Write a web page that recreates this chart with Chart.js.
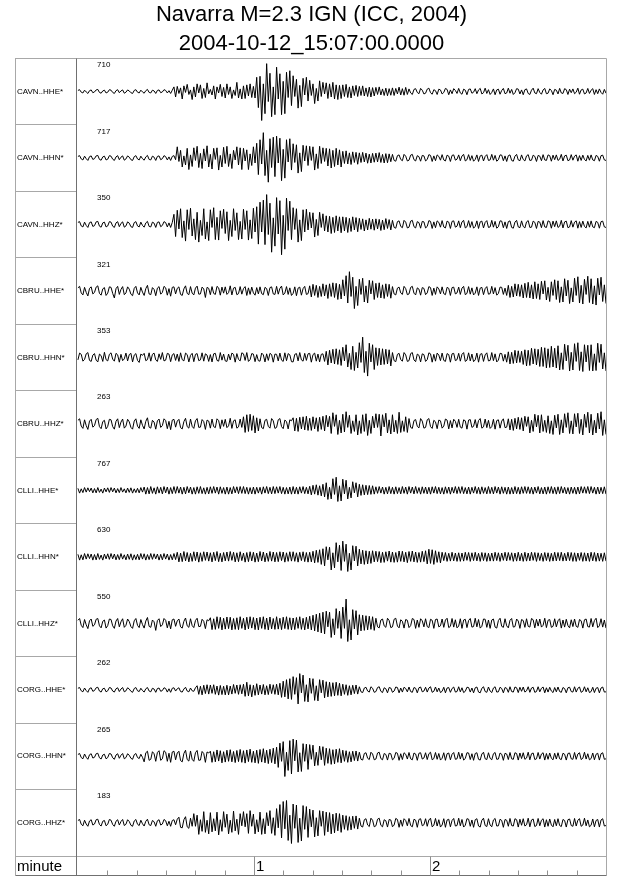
<!DOCTYPE html>
<html>
<head>
<meta charset="utf-8">
<script src="https://cdn.jsdelivr.net/npm/chart.js@4"></script>
<style>
html,body{margin:0;padding:0;background:#fff;}
canvas{display:block;}
</style>
</head>
<body>
<canvas id="c" width="640" height="878"></canvas>
<script>
const titleLines = ['Navarra M=2.3 IGN (ICC, 2004)', '2004-10-12_15:07:00.0000'];
const stationLabels = ['CAVN..HHE*','CAVN..HHN*','CAVN..HHZ*','CBRU..HHE*','CBRU..HHN*','CBRU..HHZ*','CLLI..HHE*','CLLI..HHN*','CLLI..HHZ*','CORG..HHE*','CORG..HHN*','CORG..HHZ*'];
const peakCounts = [710, 717, 350, 321, 353, 263, 767, 630, 550, 262, 265, 183];
const axisName = 'minute';
const minuteTicks = [1, 2];
const secondTicks = [10,20,30,40,50,70,80,90,100,110,130,140,150,160,170];
const traceDurationMin = 3;

const traceCAVN_HHE = [
4,7,-3,-6,5,-2,-8,3,6,-5, -2,6,8,-4,-7,2,5,-6,-3,7, 5,-4,-8,3,7,-5,2,6,-7,-3, 6,2,-5,-8,4,7,-3,-6,5,-2,
-7,3,8,-4,-6,5,2,-8,4,6, -5,-2,7,4,-6,3,-8,5,18,-22, 20,-8,14,-30,22,-4,28,-12,6,-32, 18,-22,30,-6,26,-28,12,-24,34,-10,
8,-14,22,-30,18,-6,28,-20,16,-26, 30,-12,18,-28,6,-16,36,-26,10,-30, 22,-28,26,-18,30,-24,20,-26,56,-64, 60,-115,30,-88,110,-40,72,-100,18,-92,
96,-30,70,-92,40,-88,76,-24,82,-56, 62,-20,48,-66,24,-60,52,-14,56,-38, 44,-16,30,-48,12,-38,42,-20,36,-10, 34,-28,30,-22,36,-30,26,-32,24,-28,
26,-20,28,-24,18,-26,22,-16,24,-20, 20,-16,22,-18,14,-20,17,-22,15,-18, 16,-12,18,-14,10,-16,13,-17,11,-15, 14,-16,12,-10,17,-14,11,-15,16,-12,
10,-6,-12,8,11,-4,-9,12,5,-10, -7,9,13,-5,-11,7,3,-12,9,6, -10,-4,12,8,-13,6,-9,11,4,-8, 12,-6,-11,9,5,-13,8,10,-7,-3,
11,-9,6,12,-10,-5,13,-8,7,-12, -4,10,-13,6,9,-11,4,12,-9,-6, 13,-7,8,-12,-5,11,9,-10,6,-13, 7,10,-8,-12,5,13,-6,-9,11,-4,
-11,6,12,-9,-7,10,4,-13,8,5, -10,12,-6,-8,11,7,-12,9,-5,10, -9,-3,13,-11,6,9,-10,-6,12,-8, 5,11,-12,7,-9,10,-4,-11,8,-7];
const traceCAVN_HHN = [
6,9,-4,-8,7,-3,-10,5,8,-6, -3,8,10,-6,-9,4,7,-8,-5,9, 7,-5,-10,4,9,-7,3,8,-9,-4, 8,3,-7,-10,5,9,-4,-8,7,-3,
-9,4,10,-6,-8,7,3,-10,6,8, -7,-3,9,5,-8,4,-10,6,9,-7, 44,-14,30,-36,8,-28,38,-46,12,-34, 40,-10,46,-38,18,-42,36,-12,48,-36,
14,-44,38,-6,40,-48,10,-36,42,-22, 46,-34,16,-42,30,-8,44,-28,40,-46, 38,-12,32,-46,16,-30,44,-20,58,-66, 72,-24,100,-70,30,-96,76,-38,82,-74,
86,-20,78,-90,34,-80,72,-16,76,-48, 56,-18,52,-60,20,-54,50,-12,48,-30, 46,-10,44,-48,16,-42,46,-22,40,-14, 38,-32,36,-40,30,-34,38,-28,32,-36,
26,-22,28,-24,20,-26,24,-18,22,-25, 20,-18,22,-16,19,-21,15,-20,18,-17, 19,-16,21,-18,14,-20,17,-19,16,-15, 14,-10,-13,9,12,-6,-11,14,7,-12,
-9,11,14,-7,-12,9,5,-13,10,8, -12,-6,13,10,-14,8,-11,12,6,-9, 13,-8,-12,11,7,-14,10,12,-9,-5, 12,-11,8,14,-12,-7,13,-10,9,-13,
-6,12,-14,8,11,-12,6,13,-10,-8, 14,-9,10,-13,-7,12,11,-11,8,-14, 9,12,-10,-13,7,14,-8,-11,12,-6, -12,8,13,-10,-9,11,6,-14,10,7,
-11,13,-8,-10,12,9,-13,11,-7,12, -10,-5,14,-12,8,11,-11,-8,13,-9, 7,12,-13,9,-10,11,-6,-12,10,-9, 12,-8,-11,10,6,-13,9,11,-8,-10];
const traceCAVN_HHZ = [
8,11,-6,-10,9,-4,-12,7,10,-8, -5,10,12,-7,-11,6,9,-10,-6,11, 9,-7,-12,6,11,-9,4,10,-11,-6, 10,5,-9,-12,7,11,-6,-10,9,-4,
-11,6,12,-8,-10,9,5,-12,8,10, -9,-4,11,7,-10,6,-12,8,40,-48, 56,-18,62,-52,14,-66,58,-20,64,-46, 22,-60,48,-70,16,-44,62,-58,10,-64,
58,-12,66,-60,28,-62,54,-16,60,-36, 50,-64,16,-48,62,-24,46,-60,12,-58, 60,-20,54,-62,18,-56,64,-30,70,-78, 88,-30,96,-80,118,-40,84,-110,26,-86,
106,-38,94,-120,36,-98,104,-24,92,-60, 66,-20,62,-70,18,-64,58,-30,60,-22, 48,-14,46,-50,20,-44,48,-12,42,-26, 34,-30,32,-36,28,-32,34,-26,30,-33,
30,-26,28,-32,24,-28,30,-22,27,-29, 24,-20,22,-26,18,-22,24,-19,21,-23, 22,-18,20,-24,17,-21,23,-16,19,-22, 16,-12,-15,11,14,-8,-13,16,9,-14,
-11,13,16,-9,-14,11,7,-15,12,10, -14,-8,15,12,-16,10,-13,14,8,-11, 15,-10,-14,13,9,-16,12,14,-11,-7, 14,-13,10,16,-14,-9,15,-12,11,-15,
-8,14,-16,10,13,-14,8,15,-12,-10, 16,-11,12,-15,-9,14,13,-13,10,-16, 11,14,-12,-15,9,16,-10,-13,14,-8, -14,10,15,-12,-11,13,8,-16,12,9,
-13,15,-10,-12,14,11,-15,13,-9,14, -12,-7,16,-14,10,13,-13,-10,15,-11, 9,14,-15,11,-12,13,-8,-14,12,-11, 14,-10,-13,12,8,-15,11,13,-10,-12];
const traceCBRU_HHE = [
12,18,-8,-16,14,-6,-20,10,16,-12, -6,15,20,-10,-17,8,13,-18,-9,16, 14,-10,-28,9,18,-14,6,17,-15,-8, 16,7,-13,-19,10,18,-8,-16,14,-5,
-18,9,22,-12,-15,13,6,-19,11,17, -13,-6,18,12,-17,9,-21,14,16,-12, 10,16,-14,-18,8,20,-10,-15,17,-9, -16,11,19,-13,-12,15,8,-26,14,10,
-15,17,-10,-14,18,12,-17,15,-9,16, -14,-7,20,-16,11,14,-15,-11,17,-13, 9,17,-18,12,-14,15,-8,-17,13,-12, 16,-11,-15,14,9,-18,13,16,-12,-14,
18,-13,10,19,-16,-9,17,-14,12,-18, -10,16,-19,11,15,-17,9,18,-14,-11, 20,-24,26,-18,22,-26,18,-22,28,-20, 24,-30,28,-22,32,-26,30,-34,26,-32,
44,-20,60,-48,76,-22,54,-70,18,-58, 46,-14,50,-44,20,-48,42,-12,40,-34, 30,-26,32,-28,24,-30,28,-22,26,-29, 17,-12,-16,11,15,-8,-14,18,9,-15,
-12,14,18,-9,-16,12,7,-17,13,10, -15,-8,17,13,-18,11,-14,16,8,-12, 16,-11,-15,14,10,-18,13,15,-12,-8, 15,-14,11,18,-15,-10,17,-13,12,-16,
-9,16,-18,11,14,-15,9,17,-13,-11, 18,-12,13,-17,-10,15,14,-14,11,-18, 22,-26,18,-24,28,-20,26,-22,24,-28, 30,-26,34,-28,24,-32,36,-30,28,-34,
38,-12,40,-36,14,-42,36,-18,44,-34, 40,-46,16,-44,48,-20,42,-50,12,-44, 50,-18,56,-48,22,-52,46,-14,58,-46, 48,-52,20,-56,50,-16,54,-42,24,-50];
const traceCBRU_HHN = [
-10,17,12,-15,-8,14,19,-12,-16,9, 15,-11,-18,13,7,-16,20,-9,-14,12, 18,-7,-15,16,10,-19,12,-13,-6,17, -14,11,16,-18,9,15,-12,-20,13,8,
16,-13,-9,18,-15,12,17,-10,-16,14, -8,19,-14,-11,16,13,-17,10,15,-12, 13,-16,18,-9,-14,17,11,-18,8,16, -17,12,15,-13,-10,18,-15,14,9,-16,
11,-18,14,16,-12,-15,19,-11,13,-14, -16,13,-10,17,12,-19,15,-8,-14,18, 14,-12,19,-16,-9,15,13,-17,11,-13, -15,17,10,-18,14,-12,16,11,-19,13,
12,-14,17,-11,-16,18,-13,15,10,-17, -18,12,15,-14,19,-10,-15,16,-12,14, 16,-19,11,17,-15,13,-18,12,14,-16, 24,-30,28,-22,32,-26,34,-28,30,-32,
40,-14,50,-38,16,-48,44,-52,20,-42, 58,-20,80,-60,24,-74,56,-18,50,-48, 38,-32,36,-30,34,-28,32,-26,30,-34, 19,-13,-17,12,16,-9,-15,19,10,-16,
-13,15,19,-10,-17,13,8,-18,14,11, -16,-9,18,14,-19,12,-15,17,9,-13, 17,-12,-16,15,11,-19,14,16,-13,-9, 16,-15,12,19,-16,-11,18,-14,13,-17,
-10,17,-19,12,15,-16,10,18,-14,-12, 19,-13,14,-18,-11,16,15,-15,12,-19, 22,-26,20,-24,28,-22,26,-20,24,-28, 30,-34,28,-32,36,-26,34,-30,32,-36,
40,-36,38,-42,34,-40,44,-38,36,-42, 46,-50,18,-48,52,-14,48,-54,20,-50, 54,-16,58,-52,22,-56,50,-18,48,-52, 50,-54,14,-52,56,-20,52,-46,18,-54];
const traceCBRU_HHZ = [
14,20,-9,-18,16,-7,-22,11,18,-13, -7,17,22,-11,-19,9,14,-20,-10,18, 16,-11,-21,10,20,-15,7,19,-17,-9, 18,8,-14,-21,11,20,-9,-18,16,-6,
-20,10,24,-13,-17,14,7,-21,12,19, -14,-7,20,13,-19,10,-23,15,18,-13, 11,18,-15,-20,9,22,-11,-17,19,-10, -18,12,21,-14,-13,17,9,-22,15,11,
-17,19,-11,-15,20,13,-19,16,-10,18, -15,-8,22,-18,12,16,-17,-12,19,-14, 28,-34,36,-30,38,-26,32,-36,24,-28, 20,-15,-19,14,18,-10,-17,21,12,-18,
-14,16,21,-11,-19,15,9,-20,16,12, 24,-28,22,-30,26,-20,28,-24,30,-26, 22,-26,28,-20,24,-30,26,-22,30,-28, 34,-12,30,-38,44,-10,36,-42,14,-36,
38,-32,48,-14,34,-38,12,-30,36,-44, 12,-38,36,-30,40,-46,14,-38,30,-16, 40,-14,38,-48,36,-12,42,-36,16,-40, 36,-32,14,-38,46,-34,12,-30,28,-34,
21,-14,-18,13,17,-10,-16,21,11,-17, -14,16,21,-11,-18,14,8,-19,15,12, -17,-9,19,15,-20,13,-16,18,10,-14, 18,-13,-17,16,12,-21,15,17,-14,-10,
17,-16,13,21,-17,-12,19,-15,14,-18, -11,18,-21,13,16,-17,11,20,-15,-13, 20,-24,18,-26,22,-20,26,-22,24,-28, 30,-10,28,-36,14,-30,38,-12,34,-36,
36,-30,14,-34,32,-38,12,-42,34,-16, 38,-42,16,-36,40,-14,44,-38,12,-40, 40,-12,42,-38,18,-44,38,-14,46,-36, 38,-44,14,-36,42,-20,48,-46,16,-42];
const traceCLLI_HHE = [
8,-11,6,-9,11,-7,10,-5,9,-10, 7,-10,11,-8,5,-11,9,-6,10,-8, 11,-6,9,-10,7,-9,11,-7,6,-10, 9,-8,10,-11,6,-9,8,-10,11,-7,
13,-15,11,-14,15,-12,10,-15,14,-11, 12,-14,15,-10,13,-15,11,-13,15,-12, 15,-11,13,-15,12,-14,15,-10,13,-15, 11,-15,14,-12,15,-13,10,-15,12,-14,
14,-12,15,-11,13,-15,14,-12,11,-15, 13,-15,11,-14,15,-10,14,-13,15,-12, 15,-13,12,-15,11,-14,13,-15,12,-11, 12,-15,14,-11,15,-13,12,-14,15,-13,
14,-11,15,-13,12,-15,11,-14,13,-15, 15,-14,12,-15,14,-11,15,-13,12,-14, 16,-18,20,-15,22,-19,18,-22,24,-26, 30,-36,12,-34,46,-16,52,-44,18,-42,
44,-14,40,-34,12,-30,34,-10,30,-26, 24,-20,22,-18,20,-17,19,-16,18,-15, 14,-12,15,-11,13,-15,12,-14,15,-13, 12,-15,14,-13,11,-14,15,-12,13,-15,
15,-11,13,-14,15,-12,11,-15,14,-12, 13,-14,12,-15,14,-11,15,-13,12,-14, 11,-15,14,-12,13,-15,12,-11,15,-13, 14,-12,15,-13,11,-14,13,-15,12,-11,
15,-13,12,-15,14,-12,11,-14,15,-13, 12,-14,15,-11,13,-15,14,-12,12,-15, 13,-15,11,-14,15,-13,12,-15,14,-12, 15,-12,14,-13,12,-15,13,-11,15,-14,
11,-14,13,-15,14,-12,15,-13,12,-15, 14,-13,15,-11,12,-14,11,-15,13,-12, 12,-15,13,-14,15,-11,14,-12,15,-13, 15,-11,12,-15,13,-14,12,-13,14,-15];
const traceCLLI_HHN = [
10,-13,8,-12,13,-9,12,-7,11,-13, 9,-12,13,-10,7,-13,11,-8,12,-10, 13,-8,11,-12,9,-11,13,-9,8,-12, 11,-10,12,-13,8,-11,10,-12,13,-9,
12,-13,9,-11,13,-10,12,-8,11,-13, 10,-12,13,-9,11,-13,9,-12,13,-11, 18,-20,15,-19,21,-16,17,-20,14,-18, 20,-15,19,-21,16,-18,20,-14,19,-17,
16,-20,18,-15,21,-19,14,-20,17,-16, 19,-17,21,-14,18,-20,16,-19,20,-15, 15,-21,17,-19,20,-16,18,-21,15,-19, 21,-16,19,-20,15,-18,21,-17,19,-20,
17,-19,20,-15,19,-21,16,-18,20,-17, 20,-18,16,-21,18,-15,20,-19,17,-21, 18,-20,22,-24,26,-22,28,-30,32,-36, 40,-12,38,-52,16,-44,56,-20,46,-54,
62,-18,50,-58,14,-52,44,-16,42,-36, 30,-28,26,-30,24,-28,22,-26,24,-20, 22,-19,21,-23,18,-22,20,-17,23,-21, 19,-22,17,-21,23,-18,22,-20,18,-23,
21,-18,23,-20,19,-22,17,-21,22,-19, 24,-28,30,-26,28,-30,24,-22,20,-24, 18,-15,17,-18,14,-17,18,-16,15,-18, 16,-18,15,-17,18,-14,17,-18,16,-15,
18,-16,14,-18,17,-15,16,-18,14,-17, 15,-17,18,-15,16,-18,15,-14,18,-16, 17,-14,16,-18,15,-17,18,-16,14,-18, 18,-17,15,-16,18,-14,17,-18,16,-15,
14,-18,17,-15,16,-18,14,-17,18,-16, 17,-15,18,-17,14,-16,18,-15,17,-18, 16,-18,15,-14,17,-18,16,-17,15,-18, 18,-16,17,-18,15,-17,14,-18,16,-17];
const traceCLLI_HHZ = [
12,19,-8,-17,15,-6,-21,10,17,-12, -6,16,19,-10,-18,8,13,-19,-9,17, 15,-10,-20,9,19,-14,6,18,-16,-8, 17,7,-13,-20,10,19,-8,-17,15,-5,
-19,9,23,-12,-16,13,6,-28,11,18, -13,-6,19,12,-18,9,-22,14,17,-12, 10,17,-14,-19,8,21,-10,-16,18,-9, -17,11,20,-13,-12,16,8,-21,14,10,
22,-25,18,-24,26,-20,24,-26,20,-23, 25,-21,24,-26,19,-24,22,-25,26,-20, 20,-26,24,-22,26,-19,23,-25,21,-26, 24,-20,26,-24,21,-26,25,-22,19,-24,
26,-23,20,-25,24,-21,26,-24,22,-26, 21,-25,23,-20,26,-24,20,-26,24,-22, 28,-26,32,-30,36,-34,40,-38,44,-42, 48,-14,44,-56,18,-46,58,-20,48,-60,
64,-20,96,-72,14,-66,54,-22,50,-46, 34,-30,32,-28,30,-26,28,-24,26,-28, 20,-14,-18,13,17,-10,-16,20,11,-17, -14,16,20,-11,-18,14,8,-19,15,12,
-17,-9,19,15,-20,13,-16,18,10,-14, 18,-13,-17,16,12,-20,15,17,-14,-10, 17,-16,13,20,-17,-12,19,-15,14,-18, -11,18,-20,13,16,-17,11,19,-15,-13,
20,-14,15,-19,-12,17,16,-16,13,-20, 13,17,-15,-19,11,20,-12,-16,18,-10, -18,12,19,-15,-13,17,9,-20,15,11, -16,18,-12,-15,19,14,-18,16,-11,17,
-15,-8,20,-17,12,15,-16,-12,18,-14, 10,18,-19,13,-15,16,-9,-18,14,-13, 17,-12,-16,15,10,-19,14,17,-13,-15, 19,-14,11,20,-17,-10,18,-15,13,-19];
const traceCORG_HHE = [
6,9,-4,-8,7,-3,-10,5,8,-6, -3,8,10,-5,-9,4,6,-8,-4,9, 7,-5,-9,4,8,-7,3,9,-8,-4, 8,3,-6,-10,5,9,-4,-7,6,-3,
-9,4,9,-5,-8,6,3,-10,5,7, -6,-3,8,5,-9,4,-10,6,8,-5, 4,8,-7,-9,3,10,-5,-8,7,-4, -6,8,16,-18,14,-20,18,-15,20,-17,
19,-14,20,-18,15,-21,17,-19,14,-20, 18,-20,15,-17,21,-14,19,-18,20,-16, 22,-26,30,-24,20,-28,18,-22,24,-20, 19,-17,21,-20,16,-19,22,-15,20,-18,
22,-20,26,-30,34,-28,40,-36,44,-38, 52,-18,48,-56,64,-12,58,-46,20,-48, 46,-14,44,-42,16,-44,40,-12,38,-32, 32,-28,30,-26,28,-24,30,-22,26,-24,
22,-18,20,-22,16,-20,18,-15,19,-17, 12,-8,-11,7,10,-5,-9,12,6,-10, -7,9,12,-6,-11,8,4,-12,9,7, -10,-5,11,9,-12,7,-9,10,5,-8,
11,-7,-10,9,6,-12,8,11,-8,-5, 10,-9,7,12,-10,-6,11,-8,7,-11, -6,10,-12,7,9,-10,5,11,-9,-7, 12,-8,8,-11,-6,10,9,-9,7,-12,
8,11,-9,-12,6,12,-7,-10,11,-5, -11,7,12,-9,-8,10,5,-12,9,6, -10,12,-7,-9,11,8,-11,10,-6,11, -9,-4,12,-10,7,10,-10,-7,12,-8,
6,11,-12,8,-9,10,-5,-11,9,-8, 11,-7,-10,9,5,-12,8,10,-7,-9, 12,-9,6,11,-10,-6,12,-8,8,-11, -7,10,-11,6,9,-12,7,11,-9,-8];
const traceCORG_HHN = [
7,11,-5,-10,9,-4,-12,6,10,-7, -4,10,12,-6,-11,5,8,-10,-5,11, 9,-6,-12,5,10,-8,4,11,-10,-5, 10,4,-8,-12,6,11,-5,-9,8,-4,
-22,14,20,-16,-12,18,10,-20,15,22, -16,-10,22,16,-20,12,-24,17,20,-14, 13,20,-17,-22,11,24,-13,-19,21,-12, -20,14,23,-16,-15,19,11,-24,17,13,
20,-24,18,-22,25,-19,22,-26,18,-23, 24,-20,26,-22,19,-25,23,-21,27,-24, 22,-27,25,-21,28,-24,20,-26,24,-28, 27,-23,30,-26,24,-29,28,-25,32,-30,
36,-44,52,-20,58,-80,16,-56,62,-70, 68,-18,64,-62,14,-60,50,-20,48,-52, 46,-12,44,-38,16,-36,40,-14,38,-36, 32,-28,30,-32,26,-30,28,-24,30,-26,
24,-20,22,-24,18,-22,20,-17,21,-19, 16,-12,-15,11,14,-8,-13,16,9,-14, -11,13,16,-9,-14,11,7,-15,12,10, -14,-8,15,12,-16,10,-13,14,8,-11,
15,-10,-14,13,9,-16,12,14,-11,-7, 14,-13,10,16,-14,-9,15,-12,11,-15, -8,14,-16,10,13,-14,8,15,-12,-10, 16,-11,12,-15,-9,14,13,-13,10,-16,
11,14,-12,-15,9,16,-10,-13,14,-8, -14,10,15,-12,-11,13,8,-16,12,9, -13,15,-10,-12,14,11,-15,13,-9,14, -12,-7,16,-14,10,13,-13,-10,15,-11,
9,14,-15,11,-12,13,-8,-14,12,-11, 14,-10,-13,12,8,-15,11,13,-10,-12, 15,-12,9,14,-13,-8,16,-11,10,-14, -9,13,-14,8,12,-15,10,14,-12,-10];
const traceCORG_HHZ = [
9,13,-6,-12,10,-5,-14,7,12,-9, -5,12,14,-7,-13,6,9,-12,-6,13, 10,-7,-14,6,12,-9,5,13,-11,-6, 12,5,-10,-14,7,13,-6,-11,10,-4,
-13,6,14,-8,-11,9,4,-14,8,12, -9,-5,13,8,-12,6,-14,9,12,-8, 14,22,-18,-20,12,24,-16,-22,18,-14, 36,-14,30,-46,12,-34,44,-38,10,-44,
40,-36,16,-32,42,-48,12,-34,44,-18, 34,-44,10,-38,46,-32,14,-46,36,-12, 44,-16,36,-42,48,-14,34,-44,12,-36, 42,-46,16,-44,40,-12,48,-42,20,-50,
56,-20,72,-60,84,-24,88,-70,30,-82, 74,-22,70,-78,18,-72,68,-26,64,-58, 54,-16,50,-56,20,-52,48,-14,46,-50, 42,-36,40,-44,34,-40,38,-32,36,-38,
30,-26,28,-30,24,-28,26,-22,27,-25, 18,-13,-17,12,16,-9,-15,18,10,-16, -12,14,18,-10,-16,12,8,-17,13,11, -16,-9,17,13,-18,11,-14,16,9,-12,
17,-11,-16,14,10,-18,13,16,-12,-8, 16,-14,11,18,-16,-10,17,-13,12,-17, -9,16,-18,11,14,-16,9,17,-13,-11, 18,-12,13,-17,-10,16,14,-14,11,-18,
12,16,-13,-17,10,18,-11,-15,16,-9, -16,11,17,-13,-12,14,9,-18,13,10, -14,17,-11,-13,16,12,-17,14,-10,16, -13,-8,18,-16,11,15,-15,-11,17,-12,
10,16,-17,12,-14,15,-9,-16,13,-12, 16,-11,-15,13,9,-17,12,15,-11,-14, 17,-13,10,16,-14,-9,18,-12,11,-16, -10,15,-16,9,13,-17,11,16,-13,-11];

const traces = [traceCAVN_HHE, traceCAVN_HHN, traceCAVN_HHZ, traceCBRU_HHE, traceCBRU_HHN, traceCBRU_HHZ,
  traceCLLI_HHE, traceCLLI_HHN, traceCLLI_HHZ, traceCORG_HHE, traceCORG_HHN, traceCORG_HHZ];

const AMP = 0.0038; // rows per amplitude unit
const FONT = "'Liberation Sans', Arial, Helvetica, sans-serif";

const datasets = traces.map((vals, i) => ({
  label: stationLabels[i],
  data: vals.map((v, k) => ({ x: k * traceDurationMin / (vals.length - 1), y: i + 0.5 - v * AMP })),
  borderColor: '#000',
  borderWidth: 1,
  pointRadius: 0,
  tension: 0,
  fill: false
}));

const framePlugin = {
  id: 'seisFrame',
  afterDraw(chart) {
    const { ctx, chartArea: a, scales } = chart;
    const xs = scales.x, ys = scales.y;
    const L = 15.5, R = Math.round(a.right) + 0.5, T = Math.round(a.top) + 0.5;
    const M = Math.round(a.bottom) + 0.5, B = M + 19, D = Math.round(a.left) + 0.5;
    ctx.save();
    ctx.lineWidth = 1;
    ctx.strokeStyle = '#a8a8a8';
    ctx.beginPath();
    ctx.moveTo(L, T); ctx.lineTo(R, T); ctx.lineTo(R, B);
    ctx.moveTo(L, T); ctx.lineTo(L, B);
    ctx.moveTo(L, M); ctx.lineTo(R, M);
    ctx.stroke();
    ctx.strokeStyle = '#707070';
    ctx.beginPath();
    ctx.moveTo(L, B); ctx.lineTo(R, B);
    ctx.moveTo(D, T); ctx.lineTo(D, B);
    ctx.stroke();
    ctx.strokeStyle = '#909090';
    ctx.beginPath();
    secondTicks.forEach(s => {
      const px = Math.round(xs.getPixelForValue(s / 60)) + 0.5;
      ctx.moveTo(px, B); ctx.lineTo(px, B - 5);
    });
    minuteTicks.forEach(m => {
      const px = Math.round(xs.getPixelForValue(m)) + 0.5;
      ctx.moveTo(px, M); ctx.lineTo(px, B);
    });
    ctx.stroke();
    ctx.fillStyle = '#000';
    ctx.textBaseline = 'middle';
    ctx.textAlign = 'left';
    ctx.font = '15px ' + FONT;
    ctx.fillText(axisName, 17, M + 10.5);
    minuteTicks.forEach(m => {
      const px = xs.getPixelForValue(m);
      ctx.fillText(String(m), px + 2, M + 10.5);
    });
    ctx.font = '8px ' + FONT;
    peakCounts.forEach((c, i) => {
      ctx.fillText(String(c), a.left + 21, ys.getPixelForValue(i + 0.1));
    });
    ctx.restore();
  }
};

new Chart(document.getElementById('c'), {
  type: 'line',
  data: { datasets },
  options: {
    responsive: false,
    animation: false,
    devicePixelRatio: 1,
    events: [],
    layout: { padding: { left: 17, right: 34, top: 0, bottom: 22 } },
    plugins: {
      legend: { display: false },
      tooltip: { enabled: false },
      title: {
        display: true,
        text: titleLines,
        color: '#000',
        font: { family: FONT, size: 22, weight: 'normal', lineHeight: 1.3 },
        padding: { top: 1, bottom: 0 }
      }
    },
    scales: {
      x: { type: 'linear', min: -0.011, max: 3.0, display: false },
      y: {
        type: 'linear', min: 0, max: 12, reverse: true,
        afterBuildTicks: s => { s.ticks = stationLabels.map((_, i) => ({ value: i + 0.5 })); },
        afterFit: s => { s.width = 59; },
        ticks: {
          autoSkip: false,
          crossAlign: 'far',
          padding: 0,
          color: '#000',
          font: { family: FONT, size: 8 },
          callback: (v, i) => stationLabels[i]
        },
        grid: { offset: true, drawOnChartArea: false, drawTicks: true, tickLength: 61, color: '#a8a8a8' },
        border: { display: false }
      }
    }
  },
  plugins: [framePlugin]
});
</script>
</body>
</html>
